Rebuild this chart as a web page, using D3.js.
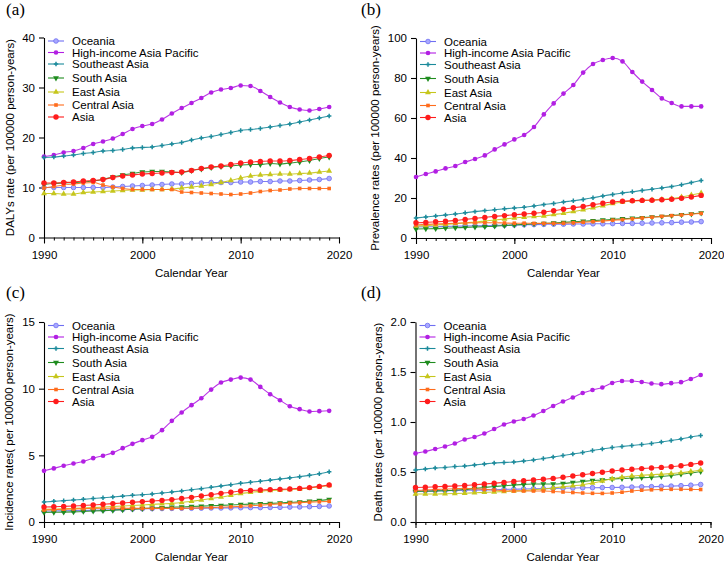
<!DOCTYPE html>
<html><head>
<meta charset="utf-8">
<title>Asia regions - rates 1990-2019</title>
<script src="https://d3js.org/d3.v7.min.js"></script>
<style>
  body { margin: 0; background: #fff; }
  svg text { font-family: "Liberation Sans", Arial, sans-serif; fill: #000; }
  .panel-label { font-family: "Liberation Serif", "Times New Roman", serif; font-size: 17px; }
</style>
</head>
<body>
<svg id="chart" width="724" height="568"></svg>

<script>
// ---- data ----
const years = [1990,1991,1992,1993,1994,1995,1996,1997,1998,1999,
               2000,2001,2002,2003,2004,2005,2006,2007,2008,2009,
               2010,2011,2012,2013,2014,2015,2016,2017,2018,2019];
const regions = ["Oceania", "High-income Asia Pacific", "Southeast Asia", "South Asia",
                 "East Asia", "Central Asia", "Asia"];
const xTicks = [1990, 2000, 2010, 2020];

// each array: one row per region, same order as `regions`
const dalysRate = [
  [10.0,10.0,10.0,10.0,10.0,10.0,10.0,10.1,10.2,10.3,10.4,10.5,10.6,10.7,10.7,10.8,10.9,11.0,11.0,11.0,11.1,11.1,11.2,11.2,11.3,11.3,11.4,11.5,11.6,11.8],
  [16.2,16.5,17.0,17.3,17.9,18.7,19.2,19.8,20.7,21.7,22.3,22.7,23.6,24.8,25.9,26.9,27.9,29.0,29.6,29.9,30.4,30.3,29.3,28.1,27.0,26.1,25.6,25.4,25.7,26.1],
  [16.0,16.1,16.3,16.5,16.8,17.0,17.3,17.4,17.6,17.9,18.0,18.1,18.4,18.7,19.0,19.5,19.9,20.2,20.6,21.0,21.4,21.6,21.8,22.1,22.4,22.7,23.1,23.5,23.9,24.3],
  [10.6,10.8,10.9,11.0,11.1,11.3,11.6,12.1,12.5,12.8,13.1,13.2,13.2,13.1,13.0,13.4,13.7,14.0,14.2,14.3,14.5,14.6,14.6,14.8,14.7,14.9,15.1,15.4,15.8,16.1],
  [8.8,8.8,8.7,8.7,9.0,9.1,9.2,9.3,9.4,9.5,9.5,9.6,9.6,9.7,9.9,10.1,10.3,10.6,11.0,11.4,11.9,12.3,12.5,12.6,12.7,12.7,12.8,12.9,13.1,13.3],
  [9.9,10.2,10.5,10.7,10.9,11.0,10.5,10.1,9.8,9.6,9.6,9.6,9.6,9.6,9.1,9.0,8.9,8.8,8.7,8.6,8.7,8.9,9.2,9.4,9.5,9.7,9.8,9.8,9.8,9.8],
  [10.9,10.9,11.0,11.1,11.3,11.4,11.6,12.0,12.3,12.5,12.7,12.8,12.9,13.0,13.1,13.4,13.8,14.1,14.3,14.6,14.9,15.1,15.2,15.3,15.3,15.4,15.6,15.8,16.1,16.4]
];
const prevalenceRate = [
  [5.5,5.6,5.7,5.8,5.9,6.0,6.1,6.2,6.3,6.4,6.5,6.6,6.7,6.8,6.9,6.9,7.0,7.0,7.1,7.1,7.2,7.3,7.3,7.4,7.5,7.6,7.7,7.9,8.0,8.2],
  [30.5,32.0,33.3,34.8,36.0,38.0,39.5,41.3,44.3,46.8,49.3,51.5,55.5,61.8,67.3,72.2,76.5,82.7,87.0,89.0,90.0,88.3,83.0,78.2,74.0,69.8,67.5,65.8,65.8,65.8],
  [10.0,10.5,11.0,11.5,12.0,12.6,13.2,13.7,14.1,14.6,15.0,15.4,16.0,16.7,17.3,18.0,18.6,19.3,20.1,21.0,21.8,22.5,23.1,23.8,24.4,25.0,25.7,26.6,27.7,28.8],
  [4.5,4.6,4.7,4.9,5.1,5.3,5.5,5.7,5.9,6.2,6.5,6.8,7.1,7.3,7.5,7.8,8.1,8.4,8.7,9.0,9.3,9.6,9.9,10.2,10.5,10.8,11.2,11.6,12.0,12.5],
  [6.0,6.2,6.5,6.8,7.2,7.6,8.0,8.5,9.0,9.5,10.0,10.4,10.7,11.0,11.7,12.4,13.2,14.1,15.1,16.1,17.2,18.0,18.5,18.8,19.0,19.3,19.7,20.5,21.5,22.5],
  [6.5,6.8,7.0,7.2,7.4,7.5,7.6,7.6,7.6,7.5,7.4,7.4,7.3,7.3,7.3,7.4,7.6,7.9,8.2,8.5,8.9,9.2,9.6,10.0,10.4,10.8,11.2,11.5,11.9,12.3],
  [7.6,7.8,8.1,8.4,8.8,9.3,9.8,10.3,10.8,11.2,11.6,12.0,12.4,12.9,13.6,14.4,15.1,15.8,16.6,17.4,18.0,18.4,18.6,18.8,18.9,19.1,19.4,19.9,20.5,21.3]
];
const incidenceRate = [
  [0.82,0.83,0.84,0.85,0.86,0.88,0.90,0.92,0.94,0.97,0.99,1.00,1.01,1.02,1.03,1.03,1.04,1.05,1.05,1.06,1.07,1.08,1.08,1.09,1.10,1.12,1.13,1.15,1.17,1.20],
  [3.84,4.02,4.22,4.39,4.54,4.79,4.97,5.19,5.54,5.86,6.14,6.39,6.89,7.59,8.21,8.76,9.28,9.93,10.46,10.68,10.83,10.68,10.13,9.58,9.13,8.68,8.46,8.29,8.31,8.34],
  [1.50,1.55,1.60,1.65,1.70,1.76,1.82,1.88,1.94,2.00,2.05,2.10,2.17,2.25,2.33,2.42,2.50,2.60,2.70,2.80,2.90,2.98,3.06,3.14,3.22,3.31,3.40,3.50,3.62,3.77],
  [0.72,0.73,0.74,0.76,0.79,0.82,0.85,0.88,0.92,0.96,1.00,1.04,1.08,1.11,1.13,1.16,1.19,1.22,1.25,1.28,1.31,1.34,1.37,1.40,1.43,1.47,1.51,1.56,1.62,1.70],
  [0.95,0.97,0.99,1.02,1.05,1.08,1.12,1.16,1.20,1.24,1.28,1.32,1.36,1.40,1.46,1.55,1.65,1.76,1.87,2.00,2.13,2.22,2.30,2.36,2.40,2.44,2.48,2.55,2.64,2.74],
  [0.90,0.93,0.96,0.98,1.00,1.02,1.03,1.03,1.03,1.02,1.02,1.02,1.02,1.02,1.02,1.04,1.06,1.08,1.11,1.14,1.18,1.22,1.26,1.31,1.36,1.41,1.45,1.49,1.52,1.55],
  [1.12,1.14,1.17,1.20,1.24,1.28,1.33,1.38,1.43,1.48,1.53,1.57,1.62,1.68,1.76,1.85,1.95,2.05,2.15,2.23,2.32,2.37,2.40,2.43,2.45,2.48,2.52,2.58,2.67,2.77]
];
const deathRate = [
  [0.310,0.311,0.312,0.313,0.315,0.317,0.319,0.321,0.323,0.326,0.328,0.330,0.332,0.334,0.336,0.338,0.340,0.342,0.343,0.344,0.345,0.347,0.349,0.351,0.353,0.356,0.359,0.363,0.368,0.375],
  [0.686,0.705,0.730,0.755,0.785,0.825,0.850,0.885,0.930,0.975,1.005,1.030,1.065,1.110,1.160,1.205,1.245,1.290,1.320,1.345,1.390,1.410,1.410,1.400,1.385,1.378,1.388,1.398,1.430,1.470],
  [0.520,0.530,0.540,0.545,0.555,0.560,0.570,0.580,0.590,0.595,0.600,0.610,0.620,0.635,0.650,0.665,0.680,0.695,0.715,0.730,0.745,0.755,0.765,0.775,0.785,0.800,0.815,0.830,0.850,0.865],
  [0.305,0.307,0.310,0.313,0.318,0.325,0.335,0.345,0.355,0.362,0.370,0.375,0.380,0.380,0.380,0.385,0.395,0.405,0.415,0.420,0.430,0.435,0.440,0.443,0.447,0.455,0.465,0.478,0.490,0.505],
  [0.280,0.280,0.280,0.283,0.285,0.288,0.292,0.296,0.300,0.305,0.310,0.315,0.322,0.330,0.340,0.352,0.362,0.373,0.390,0.410,0.432,0.448,0.460,0.468,0.473,0.478,0.484,0.492,0.505,0.520],
  [0.315,0.320,0.325,0.330,0.333,0.335,0.333,0.327,0.320,0.313,0.310,0.310,0.310,0.310,0.305,0.300,0.295,0.290,0.287,0.286,0.290,0.298,0.310,0.318,0.322,0.325,0.327,0.327,0.326,0.325],
  [0.345,0.348,0.352,0.356,0.360,0.365,0.372,0.380,0.388,0.396,0.405,0.413,0.420,0.428,0.436,0.447,0.460,0.473,0.485,0.497,0.510,0.520,0.527,0.534,0.540,0.546,0.553,0.563,0.576,0.590]
];

const dalysTicks = [0, 10, 20, 30, 40];
const prevalenceTicks = [0, 20, 40, 60, 80, 100];
const incidenceTicks = [0, 5, 10, 15];
const deathTicks = [0, 0.5, 1.0, 1.5, 2.0];

// ---- styles ----
const colors = ["#6f6ff2", "#b21fe3", "#1b8a9b", "#1f8c1f", "#c6c61c", "#ff6c1c", "#ff1c1c"];
const markFill = ["#a8a8ff", "#b21fe3", "#1b8a9b", "#1f8c1f", "#c6c61c", "#ff6c1c", "#ff1c1c"];
const symbols = [d3.symbolCircle, d3.symbolCircle, d3.symbolCross, d3.symbolTriangle,
                 d3.symbolTriangle, d3.symbolSquare, d3.symbolCircle];
const symSize = [17, 17, 11, 15, 15, 13, 23];
const symRotate = [0, 0, 0, 180, 0, 0, 0];
const legendRows = [0, 11.5, 23, 37, 51, 64, 76];

const panels = [
  { tag: "(a)", values: dalysRate, ticks: dalysTicks, fmt: d3.format("d"),
    title: "DALYs rate (per 100000 person-years)", left: 44, top: 37.5, tagX: 6, tagY: 15, titleX: -34 },
  { tag: "(b)", values: prevalenceRate, ticks: prevalenceTicks, fmt: d3.format("d"),
    title: "Prevalence rates (per 100000 person-years)", left: 416, top: 38, tagX: 361, tagY: 15, titleX: -41 },
  { tag: "(c)", values: incidenceRate, ticks: incidenceTicks, fmt: d3.format("d"),
    title: "Incidence rates( per 100000 person-years)", left: 44, top: 322, tagX: 6, tagY: 298, titleX: -35 },
  { tag: "(d)", values: deathRate, ticks: deathTicks, fmt: d3.format(".1f"),
    title: "Death rates (per 100000 person-years)", left: 415.5, top: 322, tagX: 361, tagY: 298, titleX: -38 }
];

const plotW = 295, plotH = 200;
const svg = d3.select("#chart");

panels.forEach(p => {
  svg.append("text").attr("class", "panel-label")
     .attr("x", p.tagX).attr("y", p.tagY).text(p.tag);

  const g = svg.append("g").attr("transform", `translate(${p.left},${p.top})`);
  const x = d3.scaleLinear().domain([1990, 2020]).range([0, plotW]);
  const y = d3.scaleLinear().domain([0, d3.max(p.ticks)]).range([plotH, 0]);

  // minor year ticks
  g.append("g").attr("transform", `translate(0,${plotH})`)
   .call(d3.axisBottom(x).tickValues(years.concat([2020])).tickSize(3).tickFormat(""))
   .call(a => a.select(".domain").remove());

  const xAxis = g.append("g").attr("transform", `translate(0,${plotH})`)
   .call(d3.axisBottom(x).tickValues(xTicks).tickSize(6).tickSizeOuter(0)
          .tickPadding(7).tickFormat(d3.format("d")));
  const yAxis = g.append("g")
   .call(d3.axisLeft(y).tickValues(p.ticks).tickSize(5).tickSizeOuter(0)
          .tickPadding(4).tickFormat(p.fmt));
  [xAxis, yAxis].forEach(a => {
    a.selectAll("text").style("font-size", "11.5px").attr("fill", "#000");
    a.selectAll("line, path").attr("stroke", "#000").attr("stroke-width", 1.1);
  });
  g.selectAll(".tick line").attr("stroke", "#000");

  g.append("text").attr("x", plotW / 2).attr("y", plotH + 39)
   .attr("text-anchor", "middle").style("font-size", "11.5px").text("Calendar Year");
  g.append("text")
   .attr("transform", `translate(${p.titleX},${plotH / 2}) rotate(-90)`)
   .attr("text-anchor", "middle").attr("dy", "0.35em")
   .style("font-size", "11.5px").text(p.title);

  const line = d3.line().x((d, i) => x(years[i])).y(d => y(d)).curve(d3.curveMonotoneX);

  p.values.forEach((vals, r) => {
    g.append("path").datum(vals)
     .attr("d", line).attr("fill", "none")
     .attr("stroke", colors[r]).attr("stroke-width", 1.1).attr("stroke-opacity", 0.9);
    g.selectAll(null).data(vals).join("path")
     .attr("transform", (d, i) => `translate(${x(years[i])},${y(d)}) rotate(${symRotate[r]})`)
     .attr("d", d3.symbol(symbols[r], symSize[r]))
     .attr("fill", markFill[r])
     .attr("stroke", r === 0 ? colors[r] : "none").attr("stroke-width", 0.8);
  });

  // legend
  const leg = g.append("g").attr("transform", "translate(4,3.5)");
  regions.forEach((name, r) => {
    const row = leg.append("g").attr("transform", `translate(0,${legendRows[r]})`);
    row.append("line").attr("x1", 0).attr("x2", 16)
       .attr("stroke", colors[r]).attr("stroke-width", 1.1);
    row.append("path")
       .attr("transform", `translate(8,0) rotate(${symRotate[r]})`)
       .attr("d", d3.symbol(symbols[r], symSize[r]))
       .attr("fill", markFill[r])
       .attr("stroke", r === 0 ? colors[r] : "none").attr("stroke-width", 0.8);
    row.append("text").attr("x", 24).attr("dy", "0.35em")
       .style("font-size", "11.5px").text(name);
  });
});
</script>
</body>
</html>
